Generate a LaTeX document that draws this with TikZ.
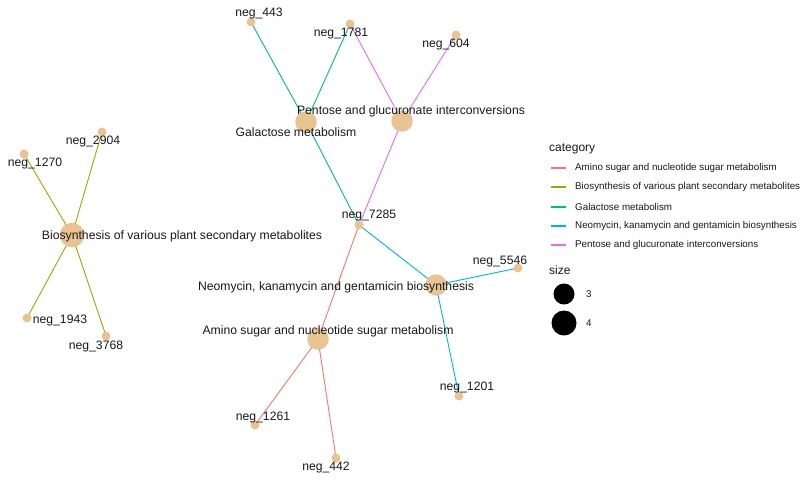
\documentclass[tikz,border=0pt]{standalone}
\usepackage{fontspec}
\setmainfont{Liberation Sans}
\begin{document}
\begin{tikzpicture}[x=1pt,y=-1pt,
  edge/.style={line width=0.9pt},
  gene/.style={circle,fill=nodetan,inner sep=0pt,minimum size=9pt},
  cat3/.style={circle,fill=nodetan,inner sep=0pt,minimum size=21.5pt},
  cat4/.style={circle,fill=nodetan,inner sep=0pt,minimum size=24.5pt},
  lbl/.style={font=\fontsize{12.2}{14}\selectfont,inner sep=0pt,text=black!90},
  legtitle/.style={font=\fontsize{12}{14}\selectfont,inner sep=0pt,anchor=west,text=black!90},
  legtext/.style={font=\fontsize{9.8}{12}\selectfont,inner sep=0pt,anchor=west,text=black!90},
  legline/.style={line width=1.1pt}
]
\definecolor{nodetan}{RGB}{232,196,148}
\definecolor{cAmino}{HTML}{F8766D}
\definecolor{cBio}{HTML}{A3A500}
\definecolor{cGal}{HTML}{00BF7D}
\definecolor{cNeo}{HTML}{00B0F6}
\definecolor{cPen}{HTML}{E76BF3}
\useasboundingbox (0,0) rectangle (800,480);
\fill[white] (0,0) rectangle (800,480);

% coordinates of nodes
\coordinate (p443) at (251,22);
\coordinate (p1781) at (350,24);
\coordinate (p604) at (456,35);
\coordinate (pGal) at (306,122);
\coordinate (pPen) at (402,121);
\coordinate (p7285) at (359,225);
\coordinate (pNeo) at (436,285);
\coordinate (p5546) at (518,268);
\coordinate (pAmi) at (318,339);
\coordinate (p1201) at (459,396);
\coordinate (p1261) at (255,425);
\coordinate (p442) at (336,458);
\coordinate (pBio) at (72,235);
\coordinate (p2904) at (102,132);
\coordinate (p1270) at (24,154);
\coordinate (p1943) at (27,318);
\coordinate (p3768) at (106,336);

% edges
\draw[edge,cGal] (p443) -- (pGal);
\draw[edge,cGal] (p1781) -- (pGal);
\draw[edge,cGal] (pGal) -- (p7285);
\draw[edge,cPen] (p1781) -- (pPen);
\draw[edge,cPen] (p604) -- (pPen);
\draw[edge,cPen] (pPen) -- (p7285);
\draw[edge,cNeo] (p7285) -- (pNeo);
\draw[edge,cNeo] (p5546) -- (pNeo);
\draw[edge,cNeo] (pNeo) -- (p1201);
\draw[edge,cAmino] (p7285) -- (pAmi);
\draw[edge,cAmino] (pAmi) -- (p1261);
\draw[edge,cAmino] (pAmi) -- (p442);
\draw[edge,cBio] (pBio) -- (p2904);
\draw[edge,cBio] (pBio) -- (p1270);
\draw[edge,cBio] (pBio) -- (p1943);
\draw[edge,cBio] (pBio) -- (p3768);

% nodes
\node[gene] (n443) at (p443) {};
\node[gene] (n1781) at (p1781) {};
\node[gene] (n604) at (p604) {};
\node[cat3] (nGal) at (pGal) {};
\node[cat3] (nPen) at (pPen) {};
\node[gene] (n7285) at (p7285) {};
\node[cat3] (nNeo) at (pNeo) {};
\node[gene] (n5546) at (p5546) {};
\node[cat3] (nAmi) at (pAmi) {};
\node[gene] (n1201) at (p1201) {};
\node[gene] (n1261) at (p1261) {};
\node[gene] (n442) at (p442) {};
\node[cat4] (nBio) at (pBio) {};
\node[gene] (n2904) at (p2904) {};
\node[gene] (n1270) at (p1270) {};
\node[gene] (n1943) at (p1943) {};
\node[gene] (n3768) at (p3768) {};

% labels
\node[lbl] (t443) at (259,14) {neg\_443};
\node[lbl] (t1781) at (341,34) {neg\_1781};
\node[lbl] (t604) at (446,45) {neg\_604};
\node[lbl] (tGal) at (296,132) {Galactose metabolism};
\node[lbl] (tPen) at (411,111) {Pentose and glucuronate interconversions};
\node[lbl] (t7285) at (369,216) {neg\_7285};
\node[lbl] (tNeo) at (336,287) {Neomycin, kanamycin and gentamicin biosynthesis};
\node[lbl] (t5546) at (500,261) {neg\_5546};
\node[lbl] (tAmi) at (328,331) {Amino sugar and nucleotide sugar metabolism};
\node[lbl] (t1201) at (467,387) {neg\_1201};
\node[lbl] (t1261) at (263,417) {neg\_1261};
\node[lbl] (t442) at (326,467) {neg\_442};
\node[lbl] (tBio) at (182,236) {Biosynthesis of various plant secondary metabolites};
\node[lbl] (t2904) at (93,142) {neg\_2904};
\node[lbl] (t1270) at (35,164) {neg\_1270};
\node[lbl] (t1943) at (60,320) {neg\_1943};
\node[lbl] (t3768) at (96,346) {neg\_3768};

% legend
\node[legtitle] (lcat) at (549,149) {category};
\coordinate (la1) at (551,168); \coordinate (lb1) at (566,168);
\coordinate (la2) at (551,187); \coordinate (lb2) at (566,187);
\coordinate (la3) at (551,207); \coordinate (lb3) at (566,207);
\coordinate (la4) at (551,226); \coordinate (lb4) at (566,226);
\coordinate (la5) at (551,245); \coordinate (lb5) at (566,245);
\draw[legline,cAmino] (la1) -- (lb1);
\draw[legline,cBio] (la2) -- (lb2);
\draw[legline,cGal] (la3) -- (lb3);
\draw[legline,cNeo] (la4) -- (lb4);
\draw[legline,cPen] (la5) -- (lb5);
\node[legtext] (le1) at (575,168) {Amino sugar and nucleotide sugar metabolism};
\node[legtext] (le2) at (575,187) {Biosynthesis of various plant secondary metabolites};
\node[legtext] (le3) at (575,207) {Galactose metabolism};
\node[legtext] (le4) at (575,226) {Neomycin, kanamycin and gentamicin biosynthesis};
\node[legtext] (le5) at (575,245) {Pentose and glucuronate interconversions};
\node[legtitle] (lsize) at (549,270) {size};
\node[circle,fill=black,inner sep=0pt,minimum size=21pt] (ls3) at (564,294) {};
\node[circle,fill=black,inner sep=0pt,minimum size=25pt] (ls4) at (564,323) {};
\node[legtext] (lt3) at (586,294) {3};
\node[legtext] (lt4) at (586,323) {4};
\end{tikzpicture}
\end{document}
